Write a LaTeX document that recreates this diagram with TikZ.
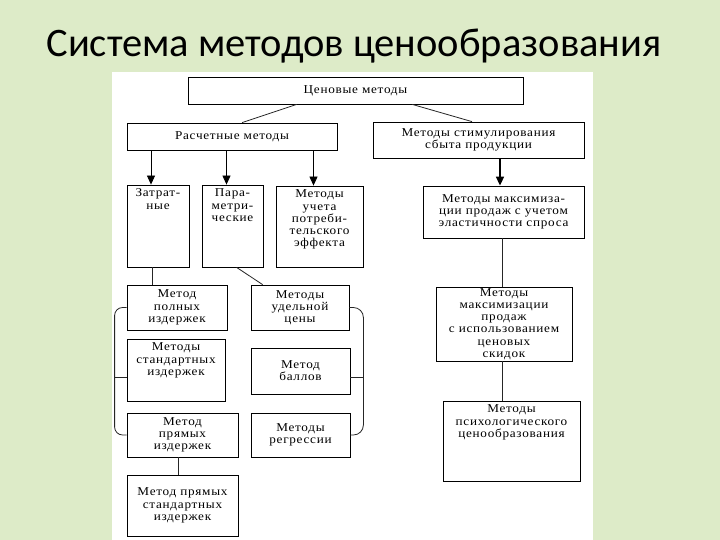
\documentclass[tikz,border=0pt]{standalone}
\usepackage{fontspec}
\setmainfont{Liberation Serif}[FakeStretch=1.1,LetterSpace=6]
\newfontfamily\titlefont{Carlito}
\usetikzlibrary{arrows.meta,calc}
\definecolor{slidegreen}{RGB}{221,235,200}

\begin{document}
\begin{tikzpicture}[x=1pt,y=-1pt,line width=0.8pt]
    \tikzstyle{box}=[draw,rectangle,inner sep=1pt,align=center,font=\fontsize{12}{12.2}\selectfont]
    \tikzstyle{toptext}=[anchor=north,align=center,inner sep=1pt,yshift=-3pt,font=\fontsize{12}{12.2}\selectfont]
    \tikzstyle{arr}=[-{Triangle[width=8pt,length=9pt]}]
    \tikzstyle{link}=[draw=black!85]
    \useasboundingbox (0,0) rectangle (720,540);
    % Draw the slide and the title
    \fill[slidegreen] (0,0) rectangle (720,540);
    \fill[white] (112,72) rectangle (593,540);
    \node[font=\titlefont\fontsize{40.5}{46}\selectfont,anchor=base] (title) at (354,57) {Система методов ценообразования};
    % Draw the upper boxes
    \node[box,minimum width=335,minimum height=27] (cen) at (355.5,90.5) {Ценовые методы};
    \node[box,minimum width=210,minimum height=27] (ras) at (232,136.5) {Расчетные методы};
    \node[box,minimum width=211,minimum height=36] (stim) at (478.5,140) {Методы стимулирования\\сбыта продукции};
    % Draw the second row
    \node[box,minimum width=62,minimum height=82,label={[toptext]north:Затрат-\\ные}] (zat) at (158,226) {};
    \node[box,minimum width=61,minimum height=82,label={[toptext]north:Пара-\\метри-\\ческие}] (par) at (232.5,226) {};
    \node[box,minimum width=87,minimum height=81,label={[toptext]north:Методы\\учета\\потреби-\\тельского\\эффекта}] (uch) at (319.5,226.5) {};
    \node[box,minimum width=161,minimum height=52] (maxel) at (503.5,212) {Методы максимиза-\\ции продаж с учетом\\эластичности спроса};
    % Draw the cost methods
    \node[box,minimum width=100,minimum height=45] (poln) at (177,307.5) {Метод\\полных\\издержек};
    \node[box,minimum width=98,minimum height=62,label={[toptext]north:Методы\\стандартных\\издержек}] (stand) at (176,370) {};
    \node[box,minimum width=111,minimum height=44] (pryam) at (182.5,435) {Метод\\прямых\\издержек};
    \node[box,minimum width=111,minimum height=61] (prst) at (182.5,505.5) {Метод прямых\\стандартных\\издержек};
    % Draw the parametric methods
    \node[box,minimum width=98,minimum height=45] (ud) at (300,307.5) {Методы\\удельной\\цены};
    \node[box,minimum width=99,minimum height=46] (ball) at (300.5,371) {Метод\\баллов};
    \node[box,minimum width=99,minimum height=44] (regr) at (300.5,435) {Методы\\регрессии};
    % Draw the sales methods
    \node[box,minimum width=136,minimum height=74] (skid) at (504,324) {Методы\\максимизации\\продаж\\с использованием\\ценовых\\скидок};
    \node[box,minimum width=137,minimum height=80,label={[toptext]north:Методы\\психологического\\ценообразования}] (psih) at (511.5,441) {};
    % Draw the connections
    \draw[link] ($(cen.south west)!0.325!(cen.south east)$) -- ($(ras.north west)!0.548!(ras.north east)$);
    \draw[link] ($(cen.south west)!0.669!(cen.south east)$) -- ($(stim.north west)!0.469!(stim.north east)$);
    \draw[arr] ($(zat.north |- ras.south)+(-7,0)$) -- ($(zat.north)+(-7,0)$);
    \draw[arr] ($(par.north |- ras.south)+(-6,0)$) -- ($(par.north)+(-6,0)$);
    \draw[arr] ($(uch.north |- ras.south)+(-6,0)$) -- ($(uch.north)+(-6,0)$);
    \draw[arr,line width=1.6pt] ($(maxel.north |- stim.south)+(-3.5,0)$) -- ($(maxel.north)+(-3.5,0)$);
    \draw[link] ($(zat.south)+(-6,0)$) -- ($(zat.south |- poln.north)+(-6,0)$);
    \draw[link] ($(par.south west)+(35,0)$) -- ($(ud.north west)+(12,0)$);
    \draw[link] ($(pryam.south)+(-4.5,0)$) -- ($(pryam.south |- prst.north)+(-4.5,0)$);
    \draw[link] ($(skid.north |- maxel.south)+(-2,0)$) -- ($(skid.north)+(-2,0)$);
    \draw[link] ($(skid.south)+(-2,0)$) -- ($(skid.south |- psih.north)+(-2,0)$);
    % Draw the brackets
    \draw[link,rounded corners=8pt] (poln.west) -- ++(-12,0) |- (pryam.west);
    \draw[link] ($(stand.west)+(0,7)$) -- ++(-12,0);
    \draw[link,rounded corners=10pt] (ud.east) -- ++(14,0) |- (regr.east);
    \draw[link] ($(ball.east)+(0,6)$) -- ++(13,0);
\end{tikzpicture}
\end{document}
